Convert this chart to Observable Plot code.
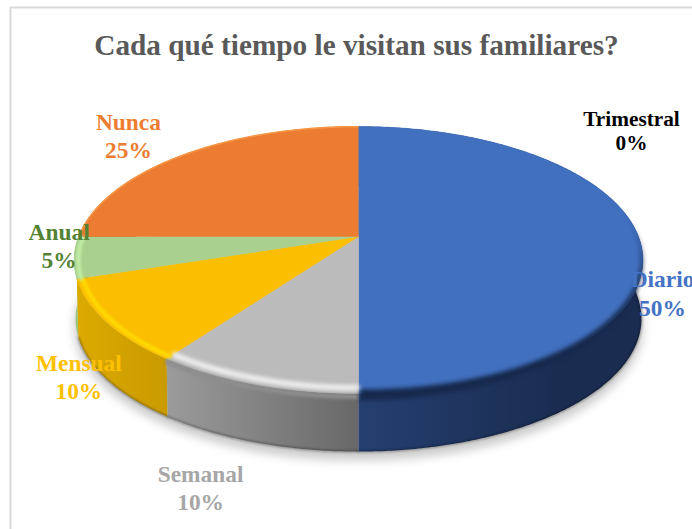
<!DOCTYPE html>
<html><head><meta charset="utf-8">
<script src="https://cdn.jsdelivr.net/npm/d3@7"></script>
<script src="https://cdn.jsdelivr.net/npm/@observablehq/plot@0.6"></script>
<style>html,body{margin:0;padding:0;background:#fff;overflow:hidden}</style>
</head><body><div id="chart"></div>
<script>
// data
const categories = ["Diario","Semanal","Mensual","Anual","Nunca","Trimestral"];
const percents = [50,10,10,5,25,0];
const chartTitle = "Cada qué tiempo le visitan sus familiares?";
// styles
const topColors = ["#4170BF","#BBBBBB","#FBBE00","#A9D08E","#EB7C31","#000000"];
const labelColors = ["#4472C4","#A6A6A6","#FFC000","#548235","#ED7D31","#000000"];
const rimColors = ["#16294d","#f6f6f6","#FFDC00","#C4F0A8","#F79646","none"];
const sideStops = [["#253f70","#1a2c50"],["#9a9a9a","#686868"],["#dcaa00","#c99a00"],["#9cc47f","#9cc47f"],["#a85820","#a85820"],["#000","#000"]];
// pie geometry (perspective projection of the disc)
const G = {cx:358, cy:236, a:280, b:129.4, k:0.176, depth:59};
const project = (theta, rho=1, dy=0) => {
  const u = rho*Math.sin(theta), v = -rho*Math.cos(theta), w = 1 - G.k*v;
  return {x: G.cx + G.a*u/w, y: G.cy + dy + G.b*v/w};
};
const arcs = d3.pie().sort(null).value(d => d)(percents);
const sample = (s, e, rho=1, dy=0) => {
  const n = Math.max(2, Math.ceil((e-s)/0.01));
  return d3.range(n+1).map(i => project(s + (e-s)*i/n, rho, dy));
};
const visible = arcs.map((a,i)=>({...a,i})).filter(a => a.endAngle > a.startAngle);
const polyLine = (pts, opts) => Plot.line(pts, {x:"x", y:"y", curve:"linear", ...opts});

const marks = [];
// outer frame
marks.push(Plot.ruleX([10], {y1:7, y2:529, stroke:"#d9d9d9", strokeWidth:2}));
marks.push(Plot.ruleY([7], {x1:10, x2:692, stroke:"#d9d9d9", strokeWidth:2}));
// ground shadow
marks.push(polyLine(sample(0, 2*Math.PI, 1.0, G.depth+8), {fill:"#000", fillOpacity:0.2, stroke:"none", imageFilter:"blur(5px)"}));
// sides, back to front
for (const a of [...visible].reverse()) {
  const upper = sample(a.startAngle, a.endAngle, 1, 0);
  const lower = sample(a.startAngle, a.endAngle, 0.995, G.depth).reverse();
  marks.push(polyLine([...upper, ...lower], {fill:`url(#side${a.i})`, stroke:"none"}));
  if (a.i < 3) marks.push(polyLine(lower, {stroke:"#000", strokeOpacity:0.35, strokeWidth:2, imageFilter:"blur(0.8px)"}));
}
// top faces
for (const a of visible) {
  const pts = [project(0,0), ...sample(a.startAngle, a.endAngle)];
  marks.push(polyLine(pts, {fill:topColors[a.i], stroke:topColors[a.i], strokeWidth:0.5}));
}
// soft transition from the grey face to its wall
const grey = visible.find(a => a.i === 1);
marks.push(polyLine(sample(grey.startAngle+0.004, grey.endAngle-0.004, 1, 3), {stroke:"#8d8d8d", strokeWidth:5, imageFilter:"blur(1.5px)"}));
// bevel on the rim
for (const a of visible) {
  if (a.i === 0) {
    // tapered dark crescent along the front of the large slice
    const s = 0.36*Math.PI, e = a.endAngle - 0.004, n = 140;
    const ts = d3.range(n+1).map(i => i/n);
    const angle = t => s + (e-s)*t;
    const outer = ts.map(t => project(angle(t), 1, 7*t));
    const inner = ts.map(t => project(angle(t), 1 - 0.022*t, 0)).reverse();
    marks.push(polyLine([...outer, ...inner], {fill:rimColors[0], stroke:"none", imageFilter:"blur(2.2px)"}));
    continue;
  }
  const spec = {1:[5,"blur(2px)",0.97,0],2:[4,"blur(1.5px)",0.98,1],3:[4,"blur(1.5px)",0.985,1],4:[1.5,"blur(0.6px)",0.998,0]}[a.i];
  marks.push(polyLine(sample(a.startAngle+0.004, a.endAngle-0.004, spec[2], spec[3]), {
    stroke: rimColors[a.i], strokeWidth: spec[0], imageFilter: spec[1]
  }));
}
// title
marks.push(Plot.text([chartTitle], {x:()=>356, y:()=>54, text:d=>d, fontFamily:"Liberation Serif", fontWeight:"bold", fontSize:29.25, fill:"#595959", lineAnchor:"bottom", textAnchor:"middle"}));
// labels: anchored on the rim at each slice's mid angle
const labelDx = [24,-54,-27,-15,-54,273];
const labelDy = [79,126,78,11,3,24];
const labelSize = [23.4,23.4,23.4,23.4,23.4,21.3];
arcs.forEach((a,i) => {
  const p = project((a.startAngle+a.endAngle)/2);
  marks.push(Plot.text([`${categories[i]}\n${percents[i]}%`], {
    x:()=>p.x+labelDx[i], y:()=>p.y+labelDy[i], text:d=>d,
    fontFamily:"Liberation Serif", fontWeight:"bold", fontSize:labelSize[i],
    lineHeight:i===5?1.13:1.2, fill:labelColors[i], textAnchor:"middle", lineAnchor:"bottom"
  }));
});

const svg = Plot.plot({
  width:692, height:529, margin:0,
  x:{axis:null, domain:[0,692], range:[0,692]},
  y:{axis:null, domain:[0,529], range:[0,529]},
  style:{background:"#fff"},
  marks
});
// gradients for the side walls
const defs = document.createElementNS("http://www.w3.org/2000/svg","defs");
defs.innerHTML = sideStops.map((s,i)=>{
  const xs = [[358,560],[170,358],[74,170],[70,80],[70,80],[0,1]][i];
  return `<linearGradient id="side${i}" gradientUnits="userSpaceOnUse" x1="${xs[0]}" x2="${xs[1]}" y1="0" y2="0"><stop offset="0" stop-color="${s[0]}"/><stop offset="1" stop-color="${s[1]}"/></linearGradient>`;
}).join("");
svg.insertBefore(defs, svg.firstChild);
document.getElementById("chart").appendChild(svg);
</script></body></html>
